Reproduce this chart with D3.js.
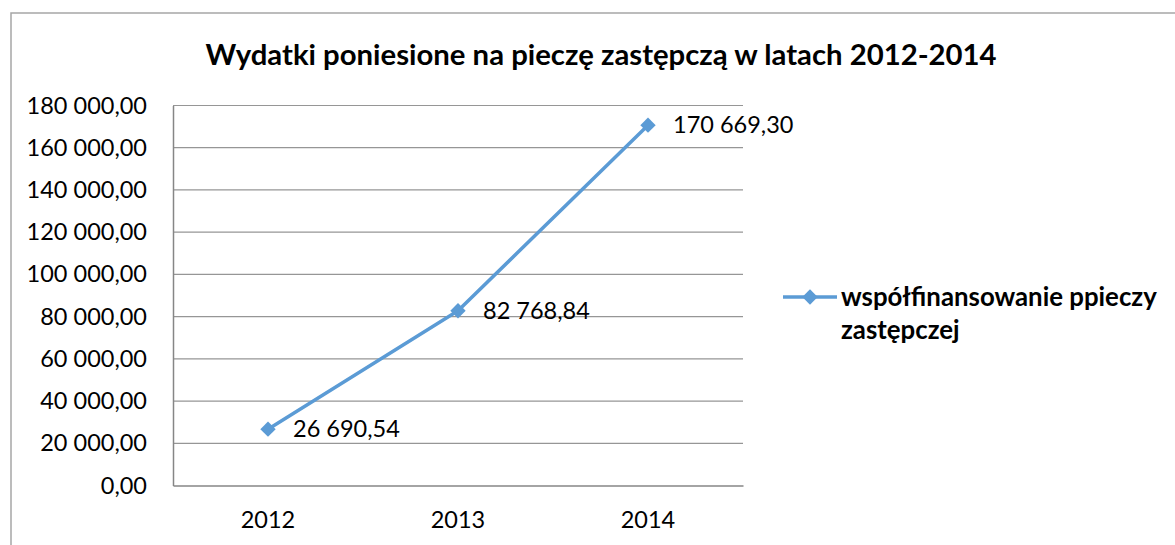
<!DOCTYPE html>
<html>
<head>
<meta charset="utf-8">
<script src="https://cdn.jsdelivr.net/npm/d3@7"></script>
<style>
    body { margin: 0; background: #fff; }
    svg { display: block; font-family: Lato, "Open Sans", sans-serif; }
</style>
</head>
<body>
<div id="chart"></div>
<script>
// Data
const years = ['2012', '2013', '2014'];
const values = [26690.54, 82768.84, 170669.30];
const yTicks = [0, 20000, 40000, 60000, 80000, 100000, 120000, 140000, 160000, 180000];
const seriesName = ['współfinansowanie ppieczy', 'zastępczej'];
const title = 'Wydatki poniesione na pieczę zastępczą w latach 2012-2014';

const width = 1175, height = 545;
const plot = { left: 173, right: 743, top: 105.5, bottom: 485.5 };
const blue = '#5b9bd5';

const fmt = v => {
    const s = v.toFixed(2).split('.');
    return s[0].replace(/\B(?=(\d{3})+(?!\d))/g, ' ') + ',' + s[1];
};

const svg = d3.select('#chart')
    .append('svg')
    .attr('width', width)
    .attr('height', height);

// Outer frame (runs past the right and bottom edge)
svg.append('rect')
    .attr('x', 11)
    .attr('y', 13)
    .attr('width', width + 20)
    .attr('height', height + 20)
    .attr('fill', 'none')
    .attr('stroke', '#a6a6a6')
    .attr('stroke-width', 1.5);

// Title
svg.append('text')
    .attr('x', 601)
    .attr('y', 65)
    .attr('text-anchor', 'middle')
    .attr('font-size', '29.3px')
    .attr('font-weight', 'bold')
    .attr('fill', '#000')
    .text(title);

// Scales
const x = d3.scaleBand()
    .domain(years)
    .range([plot.left, plot.right])
    .padding(0);

const y = d3.scaleLinear()
    .domain([0, 180000])
    .range([plot.bottom, plot.top]);

// Gridlines
svg.append('g')
    .selectAll('line')
    .data(yTicks.slice(1))
    .enter()
    .append('line')
    .attr('x1', plot.left)
    .attr('x2', plot.right)
    .attr('y1', d => y(d))
    .attr('y2', d => y(d))
    .attr('stroke', '#969696')
    .attr('stroke-width', 1.2);

// Y axis
const yAxis = svg.append('g')
    .attr('transform', `translate(${plot.left},0)`)
    .call(d3.axisLeft(y).tickValues(yTicks).tickFormat(fmt).tickSize(0).tickPadding(26));
yAxis.select('.domain').attr('stroke', '#868686').attr('stroke-width', 1.5);
yAxis.selectAll('text')
    .attr('font-size', '23.5px')
    .attr('font-family', 'Lato, sans-serif')
    .attr('fill', '#000');

// X axis
const xAxis = svg.append('g')
    .attr('transform', `translate(0,${plot.bottom})`)
    .call(d3.axisBottom(x).tickSize(0).tickPadding(26));
xAxis.select('.domain').attr('stroke', '#868686').attr('stroke-width', 1.5);
xAxis.selectAll('text')
    .attr('font-size', '23.5px')
    .attr('font-family', 'Lato, sans-serif')
    .attr('fill', '#000');

// Line
const line = d3.line()
    .x((d, i) => x(years[i]) + x.bandwidth() / 2)
    .y(d => y(d));

svg.append('path')
    .datum(values)
    .attr('d', line)
    .attr('fill', 'none')
    .attr('stroke', blue)
    .attr('stroke-width', 3.5)
    .attr('stroke-linejoin', 'round');

const diamond = d3.symbol().type(d3.symbolDiamond2).size(150);

// Markers
svg.append('g')
    .selectAll('path')
    .data(values)
    .enter()
    .append('path')
    .attr('d', diamond)
    .attr('transform', (d, i) => `translate(${x(years[i]) + x.bandwidth() / 2},${y(d)})`)
    .attr('fill', blue);

// Data labels
svg.append('g')
    .selectAll('text')
    .data(values)
    .enter()
    .append('text')
    .attr('x', (d, i) => x(years[i]) + x.bandwidth() / 2 + 25)
    .attr('y', d => y(d))
    .attr('dy', '0.35em')
    .attr('font-size', '23.5px')
    .attr('fill', '#000')
    .text(fmt);

// Legend
const legend = svg.append('g')
    .attr('transform', 'translate(783,297)');

legend.append('line')
    .attr('x1', 0)
    .attr('x2', 54)
    .attr('stroke', blue)
    .attr('stroke-width', 3.5);

legend.append('path')
    .attr('d', diamond)
    .attr('transform', 'translate(27,0)')
    .attr('fill', blue);

legend.selectAll('text')
    .data(seriesName)
    .enter()
    .append('text')
    .attr('x', 58)
    .attr('y', (d, i) => i * 33)
    .attr('dy', '0.35em')
    .attr('font-size', '25.8px')
    .attr('font-weight', 'bold')
    .attr('fill', '#000')
    .text(d => d);
</script>
</body>
</html>
